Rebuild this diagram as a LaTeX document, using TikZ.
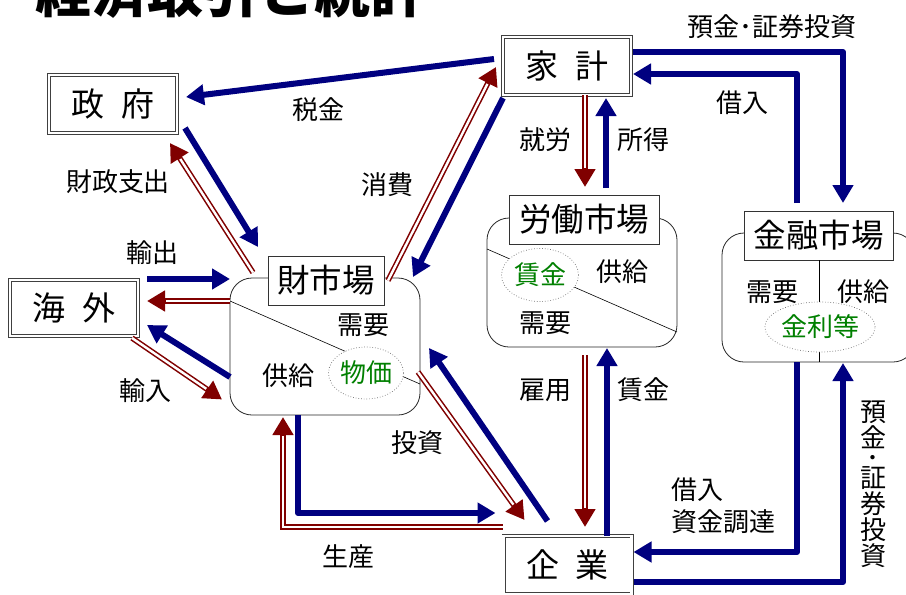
\documentclass[tikz,border=0pt]{standalone}
\usepackage{fontspec}
\setmainfont{Noto Sans CJK JP}
\usetikzlibrary{arrows.meta,calc,shapes.geometric}
\definecolor{navy}{RGB}{0,0,128}
\definecolor{dred}{RGB}{128,0,0}
\definecolor{pgreen}{RGB}{0,128,0}
\newcommand{\fsz}[1]{\fontsize{#1}{#1}\selectfont}
\begin{document}
\begin{tikzpicture}[x=1pt,y=-1pt,
  every node/.style={outer sep=0pt},
  bigbox/.style={draw=black!75, line width=0.9pt, double=white, double distance=2.2pt, fill=white,
    minimum width=128pt, minimum height=58pt, inner sep=0pt, font=\fsz{33}},
  roundbox/.style={draw=black!85, line width=0.8pt, rounded corners=22pt, fill=white, inner sep=0pt},
  labbox/.style={draw=black!80, line width=0.8pt, fill=white, inner sep=0pt, minimum height=49pt, font=\fsz{32.5}},
  oval/.style={ellipse, draw=black!55, dotted, line width=0.7pt, fill=white, inner sep=0pt, text=pgreen, font=\fsz{26}},
  lbl/.style={font=\fsz{26}, inner sep=0pt},
  divline/.style={draw=black, line width=0.6pt},
  blu/.style={draw=navy, line width=6pt, line join=round, -{Triangle[length=18pt,width=20pt]}},
  redarr/.style={draw=dred, line width=5.5pt, -{Triangle[length=18pt,width=20pt]},
    postaction={draw=white, line width=2.4pt, -, shorten >=19pt}}
]
\useasboundingbox (0,0) rectangle (906,595);
\clip (0,0) rectangle (906,595);

% title (cut off at top, as in the reference)
\node[anchor=base west, font=\fsz{56}\bfseries, inner sep=0pt] (title) at (35,12) {経済取引と統計};

% actors
\node[bigbox] (gov) at (113,104) {政\hspace{0.5em}府};
\node[bigbox] (house) at (567,66) {家\hspace{0.5em}計};
\node[bigbox, minimum height=56pt] (abroad) at (74,308) {海\hspace{0.5em}外};
\node[bigbox] (firm) at (567.5,565) {企\hspace{0.5em}業};

% goods market
\node[roundbox, minimum width=190pt, minimum height=137pt] (goodsR) at (325,346.5) {};
\draw[divline] (goodsR.west |- 0,301) -- (goodsR.east |- 0,384);
\node[oval, minimum width=75pt, minimum height=52pt] (price) at (366,373) {物価};
\node[labbox, minimum width=116pt] (goodsL) at (326,280.5) {財市場};
\node[lbl] (gdem) at (363,325) {需要};
\node[lbl] (gsup) at (288,376) {供給};

% labour market
\node[roundbox, minimum width=190pt, minimum height=129pt] (laborR) at (582,282.5) {};
\draw[divline] (laborR.west |- 0,249) -- (laborR.east |- 0,332);
\node[oval, minimum width=77pt, minimum height=53pt] (wage) at (540,275) {賃金};
\node[labbox, minimum width=150pt] (laborL) at (584,219.5) {労働市場};
\node[lbl] (lsup) at (622,272) {供給};
\node[lbl] (ldem) at (545,323) {需要};

% financial market
\node[roundbox, minimum width=193pt, minimum height=129pt] (finR) at (818.5,297.5) {};
\node[labbox, minimum width=149pt] (finL) at (818.5,235.5) {金融市場};
\draw[divline] (finL.south -| 819,0) -- (finR.south -| 819,0);
\node[oval, minimum width=107pt, minimum height=50pt] (rate) at (820,327) {金利等};
\node[lbl] (fdem) at (772,292) {需要};
\node[lbl] (fsup) at (863,292) {供給};

% arrows: government
\draw[blu] ($(house.west)+(-9,-7)$) -- ($(gov.east)+(9,-7)$);
\draw[blu] ($(gov.south east)+(8,-5)$) -- ($(goodsL.north west)+(-10,-9)$);
\draw[redarr] ($(goodsL.west)+(-15,-8)$) -- ($(gov.south east)+(-7,10)$);

% abroad
\draw[blu] ($(abroad.north east)+(9,-1)$) -- (goodsR.west |- 0,279);
\draw[redarr] (goodsR.west |- 0,301) -- ($(abroad.east)+(9,-7)$);
\draw[blu] (goodsR.west |- 0,377) -- ($(abroad.east)+(9,17)$);
\draw[redarr] ($(abroad.south east)+(-6,2)$) -- ($(goodsR.west)+(-8,53)$);

% household - goods
\draw[redarr] ($(goodsL.east)+(4,0)$) -- ($(house.west)+(-7,1)$);
\draw[blu] ($(house.south west)+(0,3)$) -- ($(goodsL.east)+(29,-3.5)$);

% household - labour
\draw[redarr] (house.south -| 585,0) -- ($(laborL.north -| 585,0)+(0,-8)$);
\draw[blu] ($(laborL.north -| 606,0)+(0,-7)$) -- ($(house.south -| 606,0)+(0,3)$);

% household - finance
\draw[blu] ($(house.east)+(2,-14)$) -| ($(finL.north -| 843,0)+(0,-8)$);
\draw[blu] ($(finL.north -| 797,0)+(0,-8)$) |- ($(house.east)+(2,8)$);

% labour - firm
\draw[redarr] ($(laborR.south -| 585,0)+(0,8)$) -- ($(firm.north -| 585,0)+(0,-9)$);
\draw[blu] (firm.north -| 607,0) -- ($(laborR.south -| 607,0)+(0,1)$);

% finance - firm
\draw[blu] (finR.south -| 797,0) |- ($(firm.east)+(2,-13)$);
\draw[blu] ($(firm.east)+(2,17)$) -| ($(finR.south -| 843,0)+(0,1)$);

% goods - firm
\draw[blu] (goodsR.south -| 298,0) |- ($(firm.west)+(-8,-52)$);
\draw[redarr] ($(firm.west)+(-1,-38)$) -| ($(goodsR.south -| 283,0)+(0,2)$);
\draw[redarr] ($(goodsR.east)+(-2,25.5)$) -- ($(firm.north west)+(21,-16)$);
\draw[blu] ($(firm.north west)+(44,-15)$) -- ($(goodsR.east)+(9,1.5)$);

% flow labels
\node[lbl] (tTax) at (318,110) {税金};
\node[lbl] (tSpend) at (118,182) {財政支出};
\node[lbl] (tCons) at (387,185) {消費};
\node[lbl] (tExp) at (152,253) {輸出};
\node[lbl] (tImp) at (145,391) {輸入};
\node[lbl] (tDep) at (772,27) {預金･証券投資};
\node[lbl] (tBor) at (742,103) {借入};
\node[lbl] (tWork) at (545,140) {就労};
\node[lbl] (tInc) at (643,140) {所得};
\node[lbl] (tEmp) at (545,390) {雇用};
\node[lbl] (tWage) at (643,390) {賃金};
\node[lbl] (tInv) at (417,443) {投資};
\node[lbl] (tProd) at (348,557) {生産};
\node[lbl, anchor=west, align=left, font=\fontsize{26}{32}\selectfont] (tFund) at (671,506) {借入\\資金調達};
\node[lbl, align=center, font=\fontsize{26}{26}\selectfont] (tDepV) at (873,484.5) {預\\金\\[-6pt]･\\[-6pt]証\\券\\投\\資};
\end{tikzpicture}
\end{document}
